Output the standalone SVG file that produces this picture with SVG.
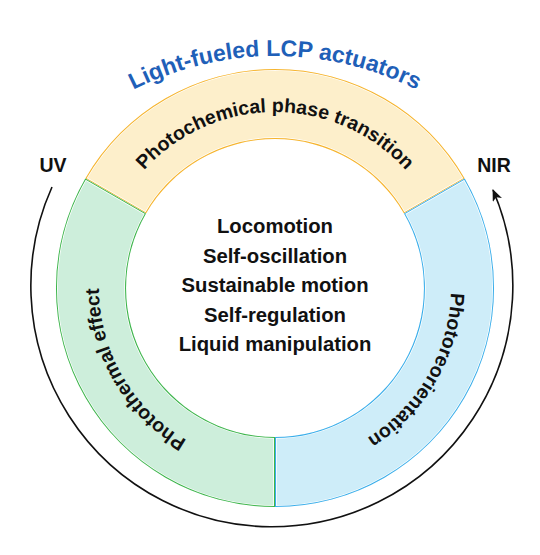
<svg xmlns="http://www.w3.org/2000/svg" xmlns:xlink="http://www.w3.org/1999/xlink" width="540" height="555" viewBox="0 0 540 555">
  <style>
    .lbl { font-family: "Liberation Sans", Arial, sans-serif; font-weight: bold; fill: #111; }
    .seg-label { font-size: 19.5px; }
    .center { font-size: 20.3px; text-anchor: middle; }
    .title { font-family: "Liberation Sans", Arial, sans-serif; font-weight: bold; font-size: 23px; fill: #1f60b8; }
    .light { font-size: 19.5px; text-anchor: middle; }
    .hl { fill: none; stroke: #ffffff; stroke-width: 3.5; }
  </style>
  <defs>
    <path id="segTop" d="M85.3,178.5 A219,219 0 0 1 464.7,178.5 L404,213.5 A149,149 0 0 0 146,213.5 Z"/>
    <path id="segLeft" d="M275,507 A219,219 0 0 1 85.3,178.5 L146,213.5 A149,149 0 0 0 275,437 Z"/>
    <path id="segRight" d="M464.7,178.5 A219,219 0 0 1 275,507 L275,437 A149,149 0 0 0 404,213.5 Z"/>
    <clipPath id="clipTop"><use xlink:href="#segTop"/></clipPath>
    <clipPath id="clipLeft"><use xlink:href="#segLeft"/></clipPath>
    <clipPath id="clipRight"><use xlink:href="#segRight"/></clipPath>
    <path id="arcTop" d="M122.6,200 A176,176 0 0 1 427.4,200"/>
    <path id="arcLeft" d="M275,464 A176,176 0 0 1 122.6,200"/>
    <path id="arcRight" d="M427.4,200 A176,176 0 0 1 275,464"/>
    <path id="arcTitle" d="M34.5,168.2 A314,314 0 0 1 515.5,168.2"/>
    <marker id="arrow" viewBox="0 0 12 10" refX="11" refY="5" markerWidth="12" markerHeight="10" markerUnits="userSpaceOnUse" orient="auto">
      <path d="M0,0 L12,5 L0,10 L3,5 Z" fill="#111"/>
    </marker>
  </defs>

  <g id="title">
    <text class="title"><textPath xlink:href="#arcTitle" startOffset="50%" text-anchor="middle">Light-fueled LCP actuators</textPath></text>
  </g>

  <g id="connectors">
    <path d="M52,187 A241,241 0 1 0 493,190" fill="none" stroke="#111" stroke-width="1.6" marker-end="url(#arrow)"/>
  </g>

  <g id="uv">
    <text class="lbl light" x="53" y="172">UV</text>
  </g>
  <g id="nir">
    <text class="lbl light" x="494" y="172">NIR</text>
  </g>

  <g id="photochemical">
    <use xlink:href="#segTop" fill="#fdefcb"/>
    <use xlink:href="#segTop" class="hl" clip-path="url(#clipTop)"/>
    <use xlink:href="#segTop" fill="none" stroke="#f6b42d" stroke-width="2" clip-path="url(#clipTop)"/>
    <text class="lbl seg-label"><textPath xlink:href="#arcTop" startOffset="50%" text-anchor="middle">Photochemical phase transition</textPath></text>
  </g>

  <g id="photothermal">
    <use xlink:href="#segLeft" fill="#cdeedb"/>
    <use xlink:href="#segLeft" class="hl" clip-path="url(#clipLeft)"/>
    <use xlink:href="#segLeft" fill="none" stroke="#3db54b" stroke-width="2" clip-path="url(#clipLeft)"/>
    <text class="lbl seg-label"><textPath xlink:href="#arcLeft" startOffset="50%" text-anchor="middle">Photothermal effect</textPath></text>
  </g>

  <g id="photoreorientation">
    <use xlink:href="#segRight" fill="#ceedf9"/>
    <use xlink:href="#segRight" class="hl" clip-path="url(#clipRight)"/>
    <use xlink:href="#segRight" fill="none" stroke="#3aaeea" stroke-width="2" clip-path="url(#clipRight)"/>
    <text class="lbl seg-label"><textPath xlink:href="#arcRight" startOffset="50%" text-anchor="middle">Photoreorientation</textPath></text>
  </g>

  <g id="applications">
    <text class="lbl center" x="275" y="233">Locomotion</text>
    <text class="lbl center" x="275" y="262.5">Self-oscillation</text>
    <text class="lbl center" x="275" y="292">Sustainable motion</text>
    <text class="lbl center" x="275" y="321.5">Self-regulation</text>
    <text class="lbl center" x="275" y="351">Liquid manipulation</text>
  </g>
</svg>
